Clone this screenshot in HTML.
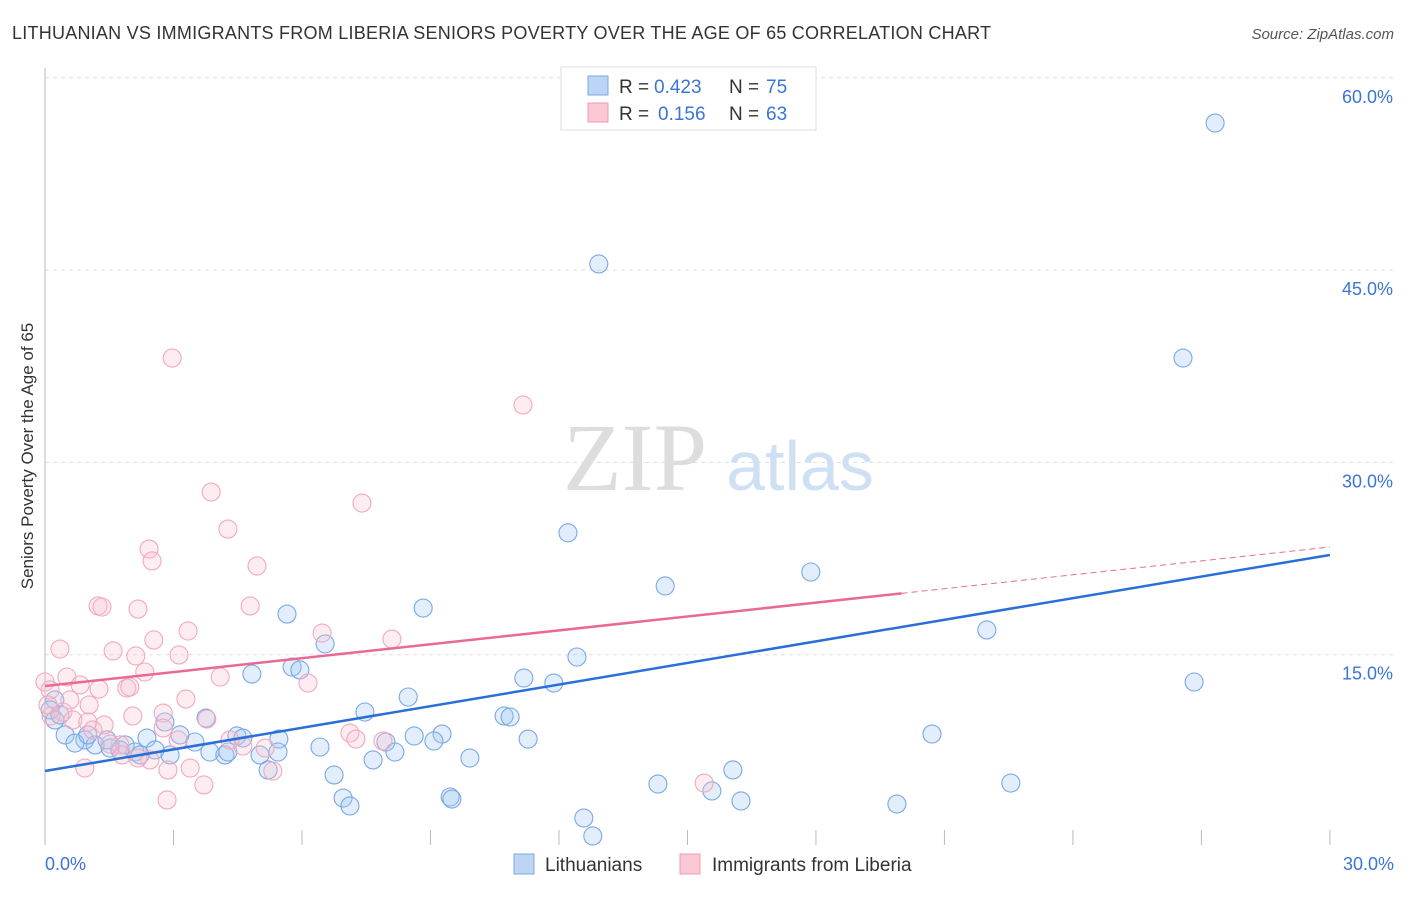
<!DOCTYPE html>
<html><head><meta charset="utf-8"><style>
body{margin:0;background:#fff;font-family:"Liberation Sans",sans-serif;}
</style></head><body>
<svg id="chart" width="1406" height="892" xmlns="http://www.w3.org/2000/svg" font-family="Liberation Sans, sans-serif">
<text x="12" y="39" font-size="18" fill="#333" textLength="979" lengthAdjust="spacing">LITHUANIAN VS IMMIGRANTS FROM LIBERIA SENIORS POVERTY OVER THE AGE OF 65 CORRELATION CHART</text>
<text x="1394" y="39" font-size="15" fill="#555" text-anchor="end" font-style="italic">Source: ZipAtlas.com</text>
<text transform="translate(33,456) rotate(-90)" font-size="17" fill="#333" text-anchor="middle">Seniors Poverty Over the Age of 65</text>
<g><text x="635" y="490" font-size="96" fill="#ddd" text-anchor="middle" font-family="Liberation Serif, serif">ZIP</text><text x="800" y="490" font-size="70" fill="#cfe0f5" text-anchor="middle">atlas</text></g>
<g id="grid"></g><g id="axes"></g><g id="marks"></g>
<g>
<rect x="561" y="67" width="255" height="63" fill="#fff" stroke="#ddd"/>
<rect x="588" y="76" width="20" height="19" fill="#bcd5f5" stroke="#7aa8e6"/>
<rect x="588" y="103" width="20" height="19" fill="#fcc8d6" stroke="#f09ab2"/>
<text x="619" y="93" font-size="19" fill="#333">R =</text>
<text x="654" y="93" font-size="19" fill="#3a75d4">0.423</text>
<text x="729" y="93" font-size="19" fill="#333">N =</text>
<text x="766" y="93" font-size="19" fill="#3a75d4">75</text>
<text x="619" y="120" font-size="19" fill="#333">R =</text>
<text x="658" y="120" font-size="19" fill="#3a75d4">0.156</text>
<text x="729" y="120" font-size="19" fill="#333">N =</text>
<text x="766" y="120" font-size="19" fill="#3a75d4">63</text>
</g>
<g>
<rect x="514" y="854" width="20" height="20" fill="#bcd5f5" stroke="#7aa8e6"/>
<text x="545" y="871" font-size="19" fill="#333">Lithuanians</text>
<rect x="680" y="854" width="20" height="20" fill="#fcc8d6" stroke="#f09ab2"/>
<text x="712" y="871" font-size="19" fill="#333">Immigrants from Liberia</text>
</g>
</svg>
<script>
const blueX=[27.32,12.93,26.57,12.21,17.88,14.48,8.83,5.65,21.99,6.54,12.42,5.77,5.95,4.83,11.18,26.83,11.88,8.48,7.47,10.72,10.86,3.76,2.80,20.71,9.27,3.15,4.48,4.62,8.62,11.28,9.08,7.96,5.46,6.42,2.38,3.50,1.87,0.93,0.47,0.23,0.23,0.70,1.17,1.52,2.10,2.57,2.92,3.85,4.20,5.02,5.44,8.17,7.66,9.92,4.27,5.21,6.75,16.06,14.31,15.57,22.55,6.96,7.12,9.46,9.50,16.25,19.89,12.58,12.79,1.45,1.75,2.22,0.12,0.35,1.00];
const blueY=[56.47,45.48,38.14,24.51,21.45,20.36,18.64,18.17,16.93,15.84,14.82,14.04,13.81,13.49,13.18,12.87,12.79,11.70,10.53,10.22,10.14,10.06,9.75,8.81,8.81,8.74,8.66,8.50,8.66,8.42,8.27,8.19,8.42,7.80,8.50,8.19,7.96,8.35,8.74,9.91,11.47,8.11,7.96,7.72,7.41,7.57,7.18,7.41,7.18,7.18,7.41,7.41,6.79,6.94,7.41,6.01,5.62,6.01,4.91,4.37,4.99,3.82,3.20,3.90,3.74,3.59,3.35,2.26,0.86,8.35,7.57,7.18,10.69,10.30,8.74];
const pinkX=[2.97,11.16,3.88,7.40,4.27,2.43,2.50,4.95,1.24,1.33,2.17,4.79,6.47,3.34,8.10,0.35,1.59,2.54,2.12,3.13,2.33,4.09,6.14,0.51,0.82,1.26,1.91,1.98,0,0.12,3.29,0.58,1.03,0.42,2.05,2.76,3.78,0.65,1.38,1.00,0.14,0.07,3.11,1.75,2.76,4.62,5.14,7.89,7.12,7.26,1.80,2.45,2.17,0.93,2.87,3.39,5.32,3.71,2.85,15.39,1.52,4.32,1.12];
const pinkY=[38.14,34.48,27.69,26.83,24.80,23.24,22.31,21.92,18.80,18.72,18.56,18.80,16.69,16.85,16.22,15.44,15.29,16.15,14.90,14.98,13.65,13.26,12.79,13.26,12.64,12.32,12.40,12.48,12.87,12.25,11.54,11.47,11.08,10.53,10.22,10.45,9.98,9.91,9.52,9.75,10.22,11.08,8.35,7.96,9.28,7.88,7.72,8.27,8.89,8.42,7.18,6.79,6.94,6.16,6.01,6.16,5.93,4.84,3.67,4.99,8.03,8.35,9.13];
const blueTrend=[5.93,22.78];
const pinkTrend=[12.56,23.4];
const pinkSolidEnd=20;
const yTicks=[15,30,45,60];
const yTickLabels=["15.0%","30.0%","45.0%","60.0%"];
const xTickLabels=["0.0%","30.0%"];
const xScale=v=>45+v*42.83;
const yScale=v=>847-v*12.82;
const NS="http://www.w3.org/2000/svg";
function mk(tag,attrs,parent){const e=document.createElementNS(NS,tag);for(const k in attrs)e.setAttribute(k,attrs[k]);parent.appendChild(e);return e;}
const grid=document.getElementById('grid'),axes=document.getElementById('axes'),marks=document.getElementById('marks');
yTicks.forEach((t,i)=>{
 const l=mk('line',{x1:45,x2:1394,y1:yScale(t),y2:yScale(t),stroke:'#ddd','stroke-dasharray':'4,4'},grid);
 
 
 const tx=mk('text',{x:1393,y:yScale(t)+25,'font-size':18,fill:'#3a75d4','text-anchor':'end'},axes);
 tx.textContent=yTickLabels[i];
 
 
});
const ax=mk('line',{x1:45,x2:45,y1:68,y2:845,stroke:'#bbb'},axes);


for(let i=0;i<=10;i++){
 const tk=mk('line',{x1:xScale(i*3),x2:xScale(i*3),y1:830,y2:845,stroke:'#bbb'},axes);
 
 
}
[[0,'start',45],[30,'end',1394]].forEach((d,i)=>{
 const tx=mk('text',{x:d[2],y:870,'font-size':18,fill:'#3a75d4','text-anchor':d[1]},axes);
 tx.textContent=xTickLabels[i];
 
 
});
blueX.forEach((x,i)=>{
 const c=mk('circle',{cx:xScale(x),cy:yScale(blueY[i]),r:9,fill:'rgba(160,198,242,0.3)',stroke:'#7aa8e6','stroke-width':1.1},marks);
 
 
});
pinkX.forEach((x,i)=>{
 const c=mk('circle',{cx:xScale(x),cy:yScale(pinkY[i]),r:9,fill:'rgba(250,195,210,0.3)',stroke:'#f2a8be','stroke-width':1.1},marks);
 
 
});
const pAt=x=>pinkTrend[0]+(pinkTrend[1]-pinkTrend[0])*x/30;
const bl=mk('line',{x1:xScale(0),y1:yScale(blueTrend[0]),x2:xScale(30),y2:yScale(blueTrend[1]),stroke:'#2a6fd6','stroke-width':2.5},marks);


const pl=mk('line',{x1:xScale(0),y1:yScale(pAt(0)),x2:xScale(pinkSolidEnd),y2:yScale(pAt(pinkSolidEnd)),stroke:'#e86a92','stroke-width':2.5},marks);


const pd=mk('line',{x1:xScale(pinkSolidEnd),y1:yScale(pAt(pinkSolidEnd)),x2:xScale(30),y2:yScale(pAt(30)),stroke:'#e86a92','stroke-width':1,'stroke-dasharray':'6,4'},marks);


</script>
</body></html>
